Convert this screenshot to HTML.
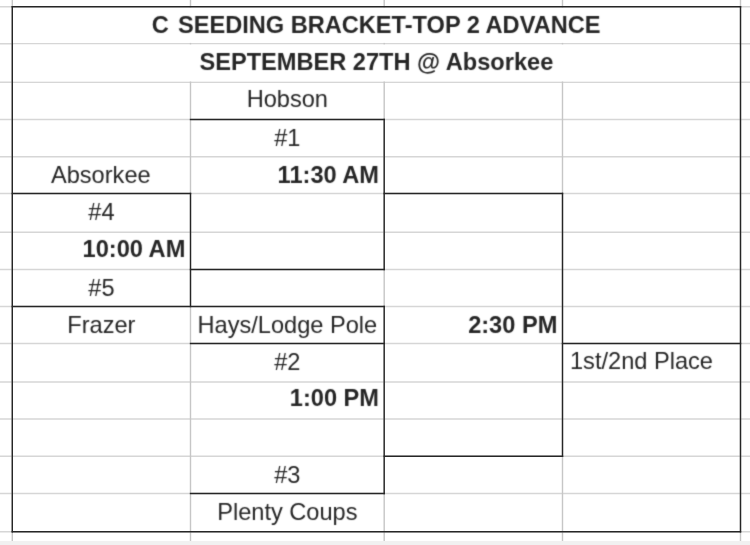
<!DOCTYPE html>
<html><head><meta charset="utf-8"><style>
html,body{margin:0;padding:0;background:#fff;width:750px;height:545px;overflow:hidden}
svg{display:block}
text{font-family:"Liberation Sans",sans-serif;font-size:23.6px;fill:#262626}
</style></head><body>
<svg width="750" height="545" viewBox="0 0 750 545">
<rect x="0" y="541" width="750" height="4" fill="#f1f1f1"/>
<line x1="0" y1="6.8" x2="750" y2="6.8" stroke="#d6d6d6" stroke-width="1.4"/>
<line x1="0" y1="43.7" x2="750" y2="43.7" stroke="#d6d6d6" stroke-width="1.4"/>
<line x1="0" y1="82.2" x2="750" y2="82.2" stroke="#d6d6d6" stroke-width="1.4"/>
<line x1="0" y1="119.5" x2="750" y2="119.5" stroke="#d6d6d6" stroke-width="1.4"/>
<line x1="0" y1="156.8" x2="750" y2="156.8" stroke="#d6d6d6" stroke-width="1.4"/>
<line x1="0" y1="193.5" x2="750" y2="193.5" stroke="#d6d6d6" stroke-width="1.4"/>
<line x1="0" y1="232.2" x2="750" y2="232.2" stroke="#d6d6d6" stroke-width="1.4"/>
<line x1="0" y1="269.5" x2="750" y2="269.5" stroke="#d6d6d6" stroke-width="1.4"/>
<line x1="0" y1="306.5" x2="750" y2="306.5" stroke="#d6d6d6" stroke-width="1.4"/>
<line x1="0" y1="343.5" x2="750" y2="343.5" stroke="#d6d6d6" stroke-width="1.4"/>
<line x1="0" y1="382.0" x2="750" y2="382.0" stroke="#d6d6d6" stroke-width="1.4"/>
<line x1="0" y1="419.0" x2="750" y2="419.0" stroke="#d6d6d6" stroke-width="1.4"/>
<line x1="0" y1="456.2" x2="750" y2="456.2" stroke="#d6d6d6" stroke-width="1.4"/>
<line x1="0" y1="493.5" x2="750" y2="493.5" stroke="#d6d6d6" stroke-width="1.4"/>
<line x1="0" y1="531.8" x2="750" y2="531.8" stroke="#d6d6d6" stroke-width="1.4"/>
<line x1="12.3" y1="0" x2="12.3" y2="541" stroke="#c6c6c6" stroke-width="1.4"/>
<line x1="190.5" y1="0" x2="190.5" y2="541" stroke="#c6c6c6" stroke-width="1.4"/>
<line x1="384.2" y1="0" x2="384.2" y2="541" stroke="#c6c6c6" stroke-width="1.4"/>
<line x1="562.5" y1="0" x2="562.5" y2="541" stroke="#c6c6c6" stroke-width="1.4"/>
<line x1="740.5" y1="0" x2="740.5" y2="541" stroke="#c6c6c6" stroke-width="1.4"/>
<rect x="13.3" y="7.6" width="726.2" height="35.300000000000004" fill="#fff"/>
<rect x="13.3" y="44.5" width="726.2" height="36.9" fill="#fff"/>
<line x1="11.600000000000001" y1="6.8" x2="741.2" y2="6.8" stroke="#262626" stroke-width="1.4"/>
<line x1="11.600000000000001" y1="531.8" x2="741.2" y2="531.8" stroke="#262626" stroke-width="1.4"/>
<line x1="12.3" y1="6.1" x2="12.3" y2="532.5" stroke="#262626" stroke-width="1.4"/>
<line x1="740.5" y1="6.1" x2="740.5" y2="532.5" stroke="#262626" stroke-width="1.4"/>
<line x1="189.8" y1="119.5" x2="384.9" y2="119.5" stroke="#262626" stroke-width="1.4"/>
<line x1="384.2" y1="118.8" x2="384.2" y2="270.2" stroke="#262626" stroke-width="1.4"/>
<line x1="189.8" y1="269.5" x2="384.9" y2="269.5" stroke="#262626" stroke-width="1.4"/>
<line x1="11.600000000000001" y1="193.5" x2="191.2" y2="193.5" stroke="#262626" stroke-width="1.4"/>
<line x1="190.5" y1="192.8" x2="190.5" y2="307.2" stroke="#262626" stroke-width="1.4"/>
<line x1="11.600000000000001" y1="306.5" x2="384.9" y2="306.5" stroke="#262626" stroke-width="1.4"/>
<line x1="384.2" y1="305.8" x2="384.2" y2="494.2" stroke="#262626" stroke-width="1.4"/>
<line x1="189.8" y1="343.5" x2="384.9" y2="343.5" stroke="#262626" stroke-width="1.4"/>
<line x1="189.8" y1="493.5" x2="384.9" y2="493.5" stroke="#262626" stroke-width="1.4"/>
<line x1="383.5" y1="193.5" x2="563.2" y2="193.5" stroke="#262626" stroke-width="1.4"/>
<line x1="562.5" y1="192.8" x2="562.5" y2="456.9" stroke="#262626" stroke-width="1.4"/>
<line x1="383.5" y1="456.2" x2="563.2" y2="456.2" stroke="#262626" stroke-width="1.4"/>
<line x1="561.8" y1="343.5" x2="741.2" y2="343.5" stroke="#262626" stroke-width="1.4"/>
<defs><filter id="f" x="0" y="0" width="750" height="545" filterUnits="userSpaceOnUse" color-interpolation-filters="sRGB"><feConvolveMatrix order="3" kernelMatrix="0.025 0.1 0.025 0.1 0.5 0.1 0.025 0.1 0.025" edgeMode="none" preserveAlpha="false"/></filter></defs>
<g filter="url(#f)">
<text x="376.09999999999997" y="32.5" text-anchor="middle" font-weight="bold">C<tspan dx="2.6"> SEEDING BRACKET-TOP 2 ADVANCE</tspan></text>
<text x="376.4" y="70.3" text-anchor="middle" font-weight="bold">SEPTEMBER 27TH @ Absorkee</text>
<text x="287.35" y="107.3" text-anchor="middle">Hobson</text>
<text x="287.35" y="146.3" text-anchor="middle">#1</text>
<text x="100.80000000000001" y="182.8" text-anchor="middle">Absorkee</text>
<text x="379.0" y="182.8" text-anchor="end" font-weight="bold">11:30 AM</text>
<text x="101.4" y="219.7" text-anchor="middle">#4</text>
<text x="185.3" y="257.0" text-anchor="end" font-weight="bold">10:00 AM</text>
<text x="101.4" y="295.7" text-anchor="middle">#5</text>
<text x="101.4" y="332.7" text-anchor="middle">Frazer</text>
<text x="287.35" y="332.7" text-anchor="middle">Hays/Lodge Pole</text>
<text x="557.3" y="332.7" text-anchor="end" font-weight="bold">2:30 PM</text>
<text x="287.35" y="369.5" text-anchor="middle">#2</text>
<text x="570.0" y="369.2" text-anchor="start">1st/2nd Place</text>
<text x="379.0" y="406.3" text-anchor="end" font-weight="bold">1:00 PM</text>
<text x="287.35" y="482.7" text-anchor="middle">#3</text>
<text x="287.35" y="519.7" text-anchor="middle">Plenty Coups</text>
</g>
</svg>
</body></html>
